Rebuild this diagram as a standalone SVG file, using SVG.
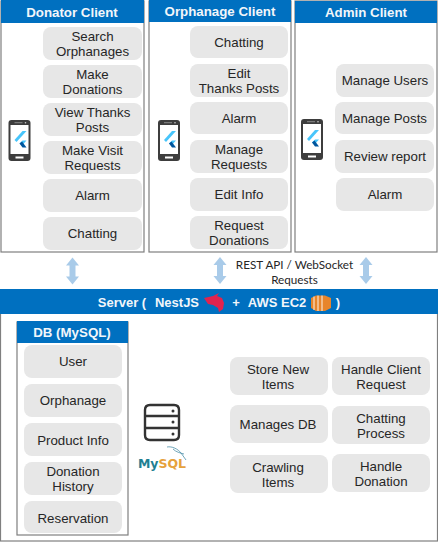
<svg xmlns="http://www.w3.org/2000/svg" width="438" height="542" viewBox="0 0 438 542">
<style>
text{font-family:"Liberation Sans",Arial,sans-serif;text-anchor:middle}
.t{font-size:13.3px;fill:#262626}
.h{font-size:13.3px;font-weight:bold;fill:#f2f6fa}
.box{fill:#fff;stroke:#7f7f7f;stroke-width:1.2}
.head{fill:#0070c0}
.i{fill:#e7e7e7}
.a{fill:#a9cbe9}
.l{font-family:Lato,"Open Sans",sans-serif;font-size:11.700px;fill:#262626}
</style>
<defs>
<g id="phone">
<rect x="0" y="0" width="22" height="41" rx="3" fill="#3d3d3d"/>
<rect x="2" y="5" width="18" height="29" fill="#fff"/>
<rect x="7" y="36.500" width="8" height="2" fill="#fff"/>
<rect x="6" y="2.200" width="8" height="1" fill="#8a8a8a"/>
<circle cx="17" cy="2.700" r="0.800" fill="#ccc"/>
<path d="M6 20 L14 11 H18 L8 22 Z" fill="#47c5fb"/>
<path d="M11 23.500 L14 20.500 H18 L13.500 25.500 Z" fill="#47c5fb"/>
<path d="M11 23.500 L13.500 21.500 L18 27.500 H14 Z" fill="#00569e"/>
</g>
<path id="ud" d="M0 0 L6.500 8 H3 V19 H6.500 L0 27 L-6.500 19 H-3 V8 H-6.500 Z"/>
</defs>

<g id="connectors" class="a">
<use href="#ud" x="72.500" y="257.500"/>
<use href="#ud" x="220" y="257"/>
<use href="#ud" x="366" y="257"/>
<path d="M193 423 L201 417 V421 H212 V417 L220 423 L212 429 V425 H201 V429 Z"/>
</g>

<g id="donator-client">
<rect class="box" x="1" y="1" width="143" height="251"/>
<rect class="head" x="1" y="0" width="143" height="23"/>
<text class="h" x="72" y="17">Donator Client</text>
<use href="#phone" x="8.500" y="120"/>
<rect class="i" x="43" y="27" width="99" height="33" rx="8"/>
<text class="t" x="92.500" y="41">Search</text><text class="t" x="92.500" y="56">Orphanages</text>
<rect class="i" x="43" y="65" width="99" height="33" rx="8"/>
<text class="t" x="92.500" y="79">Make</text><text class="t" x="92.500" y="94">Donations</text>
<rect class="i" x="43" y="103" width="99" height="33" rx="8"/>
<text class="t" x="92.500" y="117">View Thanks</text><text class="t" x="92.500" y="132">Posts</text>
<rect class="i" x="43" y="141" width="99" height="33" rx="8"/>
<text class="t" x="92.500" y="155">Make Visit</text><text class="t" x="92.500" y="170">Requests</text>
<rect class="i" x="43" y="179" width="99" height="33" rx="8"/>
<text class="t" x="92.500" y="200">Alarm</text>
<rect class="i" x="43" y="217" width="99" height="33" rx="8"/>
<text class="t" x="92.500" y="238">Chatting</text>
</g>

<g id="orphanage-client">
<rect class="box" x="149" y="1" width="142" height="251"/>
<rect class="head" x="149" y="0" width="142" height="22"/>
<text class="h" x="220" y="16">Orphanage Client</text>
<use href="#phone" x="158" y="120"/>
<rect class="i" x="190" y="26" width="98" height="32" rx="8"/>
<text class="t" x="239" y="47">Chatting</text>
<rect class="i" x="190" y="64" width="98" height="33" rx="8"/>
<text class="t" x="239" y="78">Edit</text><text class="t" x="239" y="93">Thanks Posts</text>
<rect class="i" x="190" y="102" width="98" height="32" rx="8"/>
<text class="t" x="239" y="123">Alarm</text>
<rect class="i" x="190" y="140" width="98" height="33" rx="8"/>
<text class="t" x="239" y="154">Manage</text><text class="t" x="239" y="169">Requests</text>
<rect class="i" x="190" y="178" width="98" height="33" rx="8"/>
<text class="t" x="239" y="199">Edit Info</text>
<rect class="i" x="190" y="216" width="98" height="33" rx="8"/>
<text class="t" x="239" y="230">Request</text><text class="t" x="239" y="245">Donations</text>
</g>

<g id="admin-client">
<rect class="box" x="295" y="1" width="142" height="251"/>
<rect class="head" x="295" y="1" width="142" height="22"/>
<text class="h" x="366" y="17">Admin Client</text>
<use href="#phone" x="301" y="119"/>
<rect class="i" x="336" y="64" width="98" height="33" rx="8"/>
<text class="t" x="385" y="85">Manage Users</text>
<rect class="i" x="335" y="102" width="99" height="32" rx="8"/>
<text class="t" x="384.500" y="123">Manage Posts</text>
<rect class="i" x="335" y="140" width="99" height="33" rx="8"/>
<text class="t" x="385" y="161">Review report</text>
<rect class="i" x="336" y="178" width="98" height="33" rx="8"/>
<text class="t" x="385" y="199">Alarm</text>
</g>

<g id="api-label">
<text class="l" x="294.500" y="269">REST API / WebSocket</text>
<text class="l" x="294.500" y="284">Requests</text>
</g>

<g id="server">
<rect class="box" x="0.500" y="290" width="437" height="251"/>
<rect class="head" x="0" y="289" width="438" height="25"/>
<text class="h" x="122" y="307" style="font-size:13px">Server (</text>
<text class="h" x="177" y="307" style="font-size:13px">NestJS</text>
<path d="M204 298 L213 296 L219 293 L217 296 L222 298 L224 303 L223 309 L219 312 L218 308 L213 305 L208 304 Z" fill="#e0234e"/>
<text class="h" x="236" y="307" style="font-size:13px">+</text>
<text class="h" x="277" y="307" style="font-size:13px">AWS EC2</text>
<path d="M311 298 L316 295.500 L325 295.500 L331 298 V308 L325 311 H316 L311 308 Z" fill="#e8852b"/>
<path d="M314 296.500 V310 M318 295.500 V311 M322 295.500 V311" stroke="#fff" stroke-width="0.900" fill="none"/>
<text class="h" x="338" y="307" style="font-size:13px">)</text>
</g>

<g id="db-mysql">
<rect class="box" x="17" y="322" width="111" height="213"/>
<rect class="head" x="17" y="321" width="111" height="22"/>
<text class="h" x="72" y="337">DB (MySQL)</text>
<rect class="i" x="24" y="345" width="98" height="33" rx="8"/>
<text class="t" x="73" y="366">User</text>
<rect class="i" x="24" y="384" width="98" height="33" rx="8"/>
<text class="t" x="73" y="405">Orphanage</text>
<rect class="i" x="24" y="423" width="98" height="33" rx="8"/>
<text class="t" x="73" y="445">Product Info</text>
<rect class="i" x="24" y="462" width="98" height="33" rx="8"/>
<text class="t" x="73" y="476">Donation</text><text class="t" x="73" y="491">History</text>
<rect class="i" x="24" y="501" width="98" height="32" rx="8"/>
<text class="t" x="73" y="523">Reservation</text>
</g>

<g id="mysql-icon">
<path d="M145 416 V410 Q145 405 150 405 H174 Q179 405 179 410 V416 M145 416 H179 M145 416 V428 H179 V416 M145 428 V435 Q145 440 150 440 H174 Q179 440 179 435 V428" fill="#fff" stroke="#333" stroke-width="2.400"/>
<circle cx="173" cy="411" r="1.500" fill="#333"/><circle cx="173" cy="422" r="1.500" fill="#333"/><circle cx="173" cy="434" r="1.500" fill="#333"/>
<path d="M167 447 C172 446 178 449 181 453 L186 460 M173 449 C176 452 180 453 184 454" fill="none" stroke="#4d8fa8" stroke-width="0.800"/>
<text x="162" y="468" style="font-size:12.500px;font-weight:bold;font-family:'DejaVu Sans',sans-serif"><tspan fill="#1f7f93">My</tspan><tspan fill="#e6a23c">SQL</tspan></text>
</g>

<g id="server-functions">
<rect class="i" x="230" y="357" width="98" height="38" rx="8"/>
<text class="t" x="278" y="374">Store New</text><text class="t" x="278" y="389">Items</text>
<rect class="i" x="332" y="357" width="98" height="38" rx="8"/>
<text class="t" x="381" y="374">Handle Client</text><text class="t" x="381" y="389">Request</text>
<rect class="i" x="230" y="405" width="98" height="38" rx="8"/>
<text class="t" x="278" y="429">Manages DB</text>
<rect class="i" x="332" y="406" width="98" height="38" rx="8"/>
<text class="t" x="381" y="423">Chatting</text><text class="t" x="381" y="438">Process</text>
<rect class="i" x="230" y="455" width="98" height="38" rx="8"/>
<text class="t" x="278" y="472">Crawling</text><text class="t" x="278" y="487">Items</text>
<rect class="i" x="332" y="454" width="98" height="38" rx="8"/>
<text class="t" x="381" y="471">Handle</text><text class="t" x="381" y="486">Donation</text>
</g>
</svg>
